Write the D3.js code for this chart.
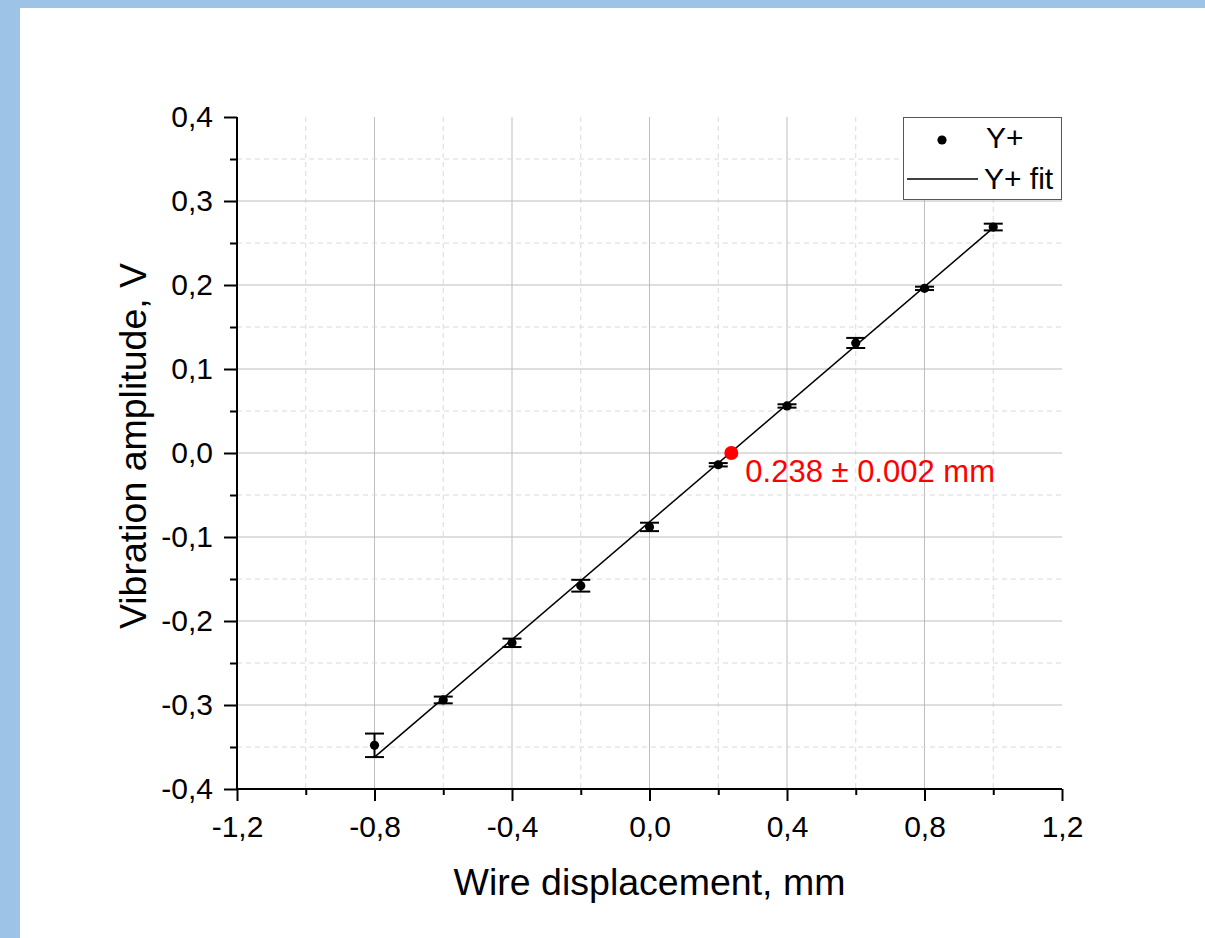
<!DOCTYPE html>
<html>
<head>
<meta charset="utf-8">
<script src="https://cdn.jsdelivr.net/npm/d3@7"></script>
<style>
  body { margin: 0; background: #9dc3e6; }
  svg { display: block; font-family: "Liberation Sans", Arial, sans-serif; }
</style>
</head>
<body>
<svg id="chart" width="1205" height="938"></svg>
<script>
// measured points, Y+
var xVals = [-0.8, -0.6, -0.4, -0.2, 0.0, 0.2, 0.4, 0.6, 0.8, 1.0];
var yVals = [-0.348, -0.294, -0.226, -0.158, -0.088, -0.014, 0.056, 0.131, 0.196, 0.269];
var yErr = [0.014, 0.004, 0.005, 0.007, 0.005, 0.002, 0.002, 0.006, 0.002, 0.004];

// linear fit end points
var fitX = [-0.8, 1.0];
var fitY = [-0.362, 0.268];

// zero crossing
var crossX = 0.238;
var crossY = 0.0;
var crossLabel = "0.238 ± 0.002 mm";

var xMajor = [-1.2, -0.8, -0.4, 0.0, 0.4, 0.8, 1.2];
var xMinor = [-1.0, -0.6, -0.2, 0.2, 0.6, 1.0];
var yMajor = [-0.4, -0.3, -0.2, -0.1, 0.0, 0.1, 0.2, 0.3, 0.4];
var yMinor = [-0.35, -0.25, -0.15, -0.05, 0.05, 0.15, 0.25, 0.35];

const svg = d3.select("#chart");

// white page on top of blue border
svg.append("rect")
  .attr("x", 20).attr("y", 8)
  .attr("width", 1185).attr("height", 930)
  .attr("fill", "white");

const x = d3.scaleLinear().domain([-1.2, 1.2]).range([237, 1062]);
const y = d3.scaleLinear().domain([-0.4, 0.4]).range([789, 117]);

const fmt = d => d3.format(".1f")(d).replace(".", ",").replace("−", "-");

// grid
const grid = svg.append("g");
grid.selectAll(".gx").data(xMajor.slice(1, -1)).enter().append("line")
  .attr("x1", d => x(d)).attr("x2", d => x(d))
  .attr("y1", y(0.4)).attr("y2", y(-0.4))
  .attr("stroke", "#bdbdbd").attr("stroke-width", 1);
grid.selectAll(".gxm").data(xMinor).enter().append("line")
  .attr("x1", d => x(d)).attr("x2", d => x(d))
  .attr("y1", y(0.4)).attr("y2", y(-0.4))
  .attr("stroke", "#dadada").attr("stroke-width", 1).attr("stroke-dasharray", "5,4");
grid.selectAll(".gy").data(yMajor.slice(1, -1)).enter().append("line")
  .attr("x1", x(-1.2)).attr("x2", x(1.2))
  .attr("y1", d => y(d)).attr("y2", d => y(d))
  .attr("stroke", "#bdbdbd").attr("stroke-width", 1);
grid.selectAll(".gym").data(yMinor).enter().append("line")
  .attr("x1", x(-1.2)).attr("x2", x(1.2))
  .attr("y1", d => y(d)).attr("y2", d => y(d))
  .attr("stroke", "#dadada").attr("stroke-width", 1).attr("stroke-dasharray", "5,4");

// axes
const xAxis = svg.append("g")
  .attr("transform", `translate(0,${y(-0.4)})`)
  .call(d3.axisBottom(x).tickValues(xMajor).tickFormat(fmt).tickSize(12).tickPadding(15));
const xAxisMinor = svg.append("g")
  .attr("transform", `translate(0,${y(-0.4)})`)
  .call(d3.axisBottom(x).tickValues(xMinor).tickFormat("").tickSize(6));
const yAxis = svg.append("g")
  .attr("transform", `translate(${x(-1.2)},0)`)
  .call(d3.axisLeft(y).tickValues(yMajor).tickFormat(fmt).tickSize(13).tickPadding(11));
const yAxisMinor = svg.append("g")
  .attr("transform", `translate(${x(-1.2)},0)`)
  .call(d3.axisLeft(y).tickValues(yMinor).tickFormat("").tickSize(7));

[xAxis, xAxisMinor, yAxis, yAxisMinor].forEach(function(a) {
  a.select(".domain").remove();
  a.attr("font-size", 30).attr("font-family", "Liberation Sans, Arial, sans-serif");
  a.selectAll(".tick line").attr("stroke", "black").attr("stroke-width", 2);
  a.selectAll("text").attr("fill", "black");
});
svg.append("line")
  .attr("x1", x(-1.2)).attr("x2", x(1.2))
  .attr("y1", y(-0.4)).attr("y2", y(-0.4))
  .attr("stroke", "black").attr("stroke-width", 2);
svg.append("line")
  .attr("x1", x(-1.2)).attr("x2", x(-1.2))
  .attr("y1", y(0.4)).attr("y2", y(-0.4))
  .attr("stroke", "black").attr("stroke-width", 2);

// axis titles
svg.append("text")
  .attr("x", x(0)).attr("y", 895)
  .attr("text-anchor", "middle").attr("font-size", 37.5)
  .text("Wire displacement, mm");
svg.append("text")
  .attr("transform", "translate(146,446) rotate(-90)")
  .attr("text-anchor", "middle").attr("font-size", 37.5)
  .text("Vibration amplitude, V");

// fit line
const line = d3.line().x(d => x(d[0])).y(d => y(d[1]));
svg.append("path")
  .datum(d3.zip(fitX, fitY))
  .attr("d", line)
  .attr("fill", "none").attr("stroke", "black").attr("stroke-width", 1.5);

// error bars and points
const pts = d3.zip(xVals, yVals, yErr);
const eb = svg.append("g").attr("stroke", "black").attr("stroke-width", 2);
eb.selectAll(".v").data(pts).enter().append("line")
  .attr("x1", d => x(d[0])).attr("x2", d => x(d[0]))
  .attr("y1", d => y(d[1] - d[2])).attr("y2", d => y(d[1] + d[2]));
eb.selectAll(".t").data(pts).enter().append("line")
  .attr("x1", d => x(d[0]) - 9.5).attr("x2", d => x(d[0]) + 9.5)
  .attr("y1", d => y(d[1] + d[2])).attr("y2", d => y(d[1] + d[2]));
eb.selectAll(".b").data(pts).enter().append("line")
  .attr("x1", d => x(d[0]) - 9.5).attr("x2", d => x(d[0]) + 9.5)
  .attr("y1", d => y(d[1] - d[2])).attr("y2", d => y(d[1] - d[2]));
svg.append("g").selectAll("circle").data(pts).enter().append("circle")
  .attr("cx", d => x(d[0])).attr("cy", d => y(d[1]))
  .attr("r", 4.6).attr("fill", "black");

// zero crossing
svg.append("circle")
  .attr("cx", x(crossX)).attr("cy", y(crossY))
  .attr("r", 7).attr("fill", "#ff0000");
svg.append("text")
  .attr("x", x(crossX) + 14).attr("y", y(crossY) + 29)
  .attr("font-size", 31).attr("fill", "#ff0000")
  .text(crossLabel);

// legend
const lg = svg.append("g");
lg.append("rect")
  .attr("x", 903.5).attr("y", 117.5).attr("width", 158).attr("height", 82)
  .attr("fill", "white").attr("stroke", "#555").attr("stroke-width", 1);
lg.append("circle").attr("cx", 942).attr("cy", 140).attr("r", 4.6).attr("fill", "black");
lg.append("text").attr("x", 986).attr("y", 148).attr("font-size", 30).text("Y+");
lg.append("line").attr("x1", 907).attr("x2", 978).attr("y1", 179).attr("y2", 179)
  .attr("stroke", "black").attr("stroke-width", 1.5);
lg.append("text").attr("x", 984).attr("y", 189).attr("font-size", 30).text("Y+ fit");
</script>
</body>
</html>
